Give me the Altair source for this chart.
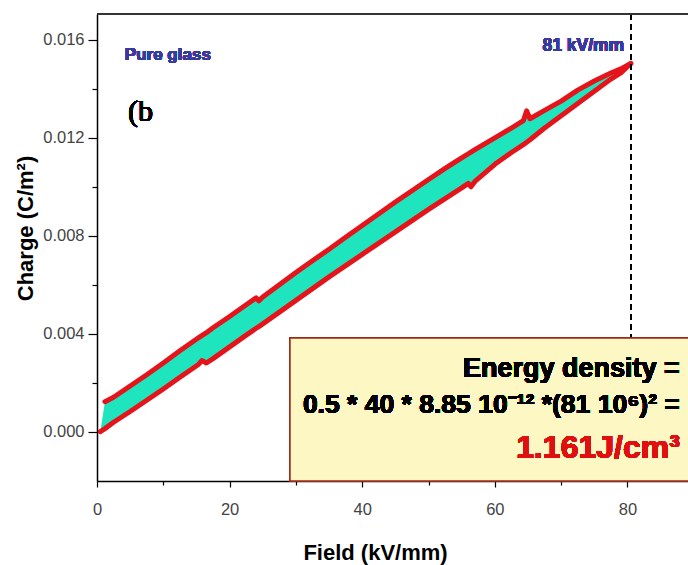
import altair as alt
import pandas as pd

# ---- data ----
field = [0.5, 1.2, 2.5, 5, 7.5, 10, 12.5, 15.3, 15.8, 16.5, 17.5, 20, 22.5, 24.0, 24.4, 25.0,
         27.5, 30, 32.5, 35, 37.5, 40, 42.5, 45, 47.5, 50, 52.5, 55, 56.0, 56.4, 57.0, 60,
         62.5, 64.3, 64.8, 65.3, 67.5, 70, 72.5, 75, 77.5, 79, 80.5]
upper = [0.00000, 0.00122, 0.00140, 0.00186, 0.00232, 0.00280, 0.00330, 0.00383, 0.00392,
         0.00404, 0.00424, 0.00470, 0.00518, 0.00546, 0.00534, 0.00550, 0.00600, 0.00650,
         0.00698, 0.00745, 0.00794, 0.00842, 0.00890, 0.00938, 0.00984, 0.01030, 0.01075,
         0.01118, 0.01135, 0.01142, 0.01152, 0.01200, 0.01240, 0.01270, 0.01310, 0.01278,
         0.01312, 0.01350, 0.01395, 0.01432, 0.01465, 0.01482, 0.01504]
lower = [0.00000, 0.00012, 0.00038, 0.00082, 0.00128, 0.00174, 0.00222, 0.00274, 0.00290,
         0.00280, 0.00298, 0.00346, 0.00394, 0.00422, 0.00429, 0.00440, 0.00488, 0.00536,
         0.00584, 0.00632, 0.00678, 0.00724, 0.00770, 0.00816, 0.00862, 0.00908, 0.00952,
         0.00996, 0.01014, 0.01000, 0.01022, 0.01092, 0.01140, 0.01172, 0.01182, 0.01192,
         0.01240, 0.01290, 0.01340, 0.01390, 0.01440, 0.01465, 0.01504]

x_ticks = [0, 10, 20, 30, 40, 50, 60, 70, 80]
y_ticks = [0.000, 0.002, 0.004, 0.006, 0.008, 0.010, 0.012, 0.014, 0.016]

df = pd.DataFrame({"field": field, "upper": upper, "lower": lower})

W, H = 591, 467
FONT = "Liberation Sans, Arial, sans-serif"
xs = alt.Scale(domain=[0, 89.13], nice=False, zero=False)
ys = alt.Scale(domain=[-0.00202, 0.01706], nice=False, zero=False)

xaxis = alt.Axis(
    values=x_ticks, title="Field (kV/mm)",
    labelExpr="datum.value % 20 === 0 ? format(datum.value, 'd') : ''",
    tickSize={"condition": {"test": "datum.value % 20 === 0", "value": 6}, "value": 4},
    tickColor="black", domainColor="black", domainWidth=1.5, tickWidth=1.2,
    labelFont=FONT, labelFontSize=16.5, labelColor="#444", labelPadding=14,
    titleFont=FONT, titleFontSize=22, titleFontWeight="bold", titleColor="black",
    titleX=278, titleY=78, titleBaseline="alphabetic", titleAlign="center",
    grid=False, labelFlush=False, labelOverlap=False,
)
yaxis = alt.Axis(
    values=y_ticks, title="Charge (C/m²)",
    labelExpr="abs(datum.value*250 - round(datum.value*250)) < 1e-6 ? format(datum.value, '.3f') : ''",
    tickSize={"condition": {"test": "abs(datum.value*250 - round(datum.value*250)) < 1e-6", "value": 9},
              "value": 5},
    tickColor="black", domainColor="black", domainWidth=1.5, tickWidth=1.2,
    labelFont=FONT, labelFontSize=16.5, labelColor="#444", labelPadding=4,
    titleFont=FONT, titleFontSize=22, titleFontWeight="bold", titleColor="black",
    titleX=-72, titleY=214, titleAngle=-90, titleBaseline="middle", titleAlign="center",
    grid=False, labelFlush=False, labelOverlap=False,
)

band = alt.Chart(df).mark_area(color="#1fe5bf").encode(
    x=alt.X("field:Q", scale=xs, axis=xaxis),
    y=alt.Y("lower:Q", scale=ys, axis=yaxis),
    y2="upper:Q",
)

up_line = alt.Chart(df).transform_filter("datum.field >= 1.2").mark_line(
    color="#e5141a", strokeWidth=5, strokeJoin="round", strokeCap="round"
).encode(x="field:Q", y="upper:Q")

lo_line = alt.Chart(df).mark_line(
    color="#e5141a", strokeWidth=5, strokeJoin="round", strokeCap="round"
).encode(x="field:Q", y="lower:Q")

base = alt.Chart(df)

vline = base.mark_rule(color="black", strokeDash=[6, 4], strokeWidth=1.2).encode(
    x=alt.X(datum=80.5)
)

top_border = base.mark_rule(color="#333", strokeWidth=2).encode(
    x=alt.value(0), x2=alt.value(W), y=alt.value(0)
)

box = base.mark_rect(fill="#fdf7c3", stroke="#9b2a1a", strokeWidth=1.5).encode(
    x=alt.X(datum=29.1), x2=alt.X2(datum=95),
    y=alt.Y(datum=-0.00202), y2=alt.Y2(datum=0.00382),
)

def label(text, xv, yv, size, color, align="left", weight="bold", font=FONT):
    return base.mark_text(
        text=text, fontSize=size, color=color, align=align, baseline="alphabetic",
        fontWeight=weight, font=font
    ).encode(x=alt.X(datum=xv), y=alt.Y(datum=yv))

t_pure = label("Pure glass", 4.2, 0.0152, 17, "#3a3a9c")
t_b = label("(b", 4.68, 0.01269, 30, "black", weight="normal",
            font="Liberation Serif, Times New Roman, serif")
t_81 = label("81 kV/mm", 79.5, 0.01556, 17.5, "#3a3a9c", align="right")
t_e1 = label("Energy density =", 87.9, 0.002215, 27, "black", align="right")
t_e2 = label("0.5 * 40 * 8.85 10⁻¹² *(81 10⁶)² =", 87.9, 0.000744, 26.5, "black", align="right")
t_e3 = label("1.161J/cm³", 87.9, -0.001095, 32, "#e01010", align="right")

chart = alt.layer(
    band, up_line, lo_line, vline, top_border, box, t_pure, t_b, t_81, t_e1, t_e2, t_e3
).properties(
    width=W, height=H,
    autosize=alt.AutoSizeParams(type="none"),
    padding={"left": 97, "top": 14, "right": 0, "bottom": 84},
).configure_view(stroke=None).configure(background="white")

chart.save("out.html", embed_options={"renderer": "svg", "actions": False})
